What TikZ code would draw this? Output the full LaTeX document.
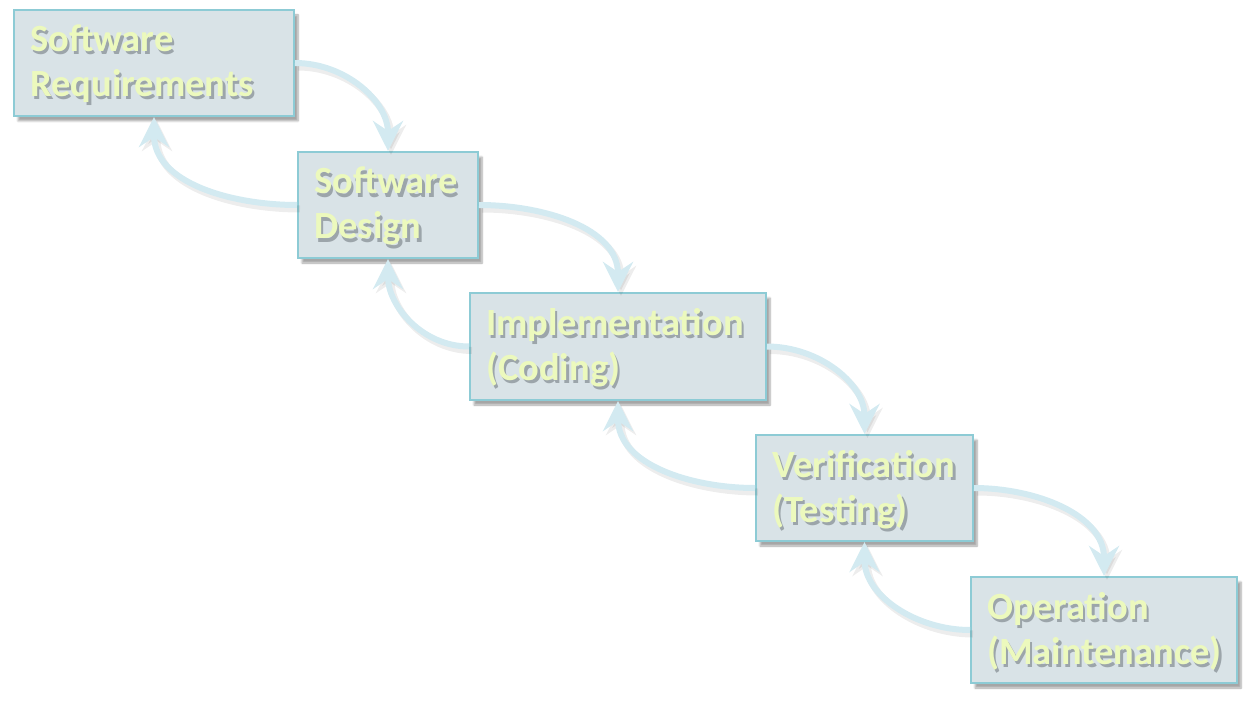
\documentclass[tikz,border=0pt]{standalone}
\usepackage{fontspec}
\setmainfont{Carlito}
\usetikzlibrary{arrows.meta,shadows.blur}
\definecolor{boxfill}{HTML}{D9E3E7}
\definecolor{boxline}{HTML}{8DCBD5}
\definecolor{txt}{HTML}{ECF9BD}
\definecolor{shd}{HTML}{9CA5AA}
\definecolor{arr}{HTML}{D3EAF1}
\tikzset{
  stagebox/.style={draw=boxline, line width=2pt, fill=boxfill, rectangle, inner sep=0pt, anchor=north west,
    blur shadow={shadow xshift=4pt,shadow yshift=-5pt,shadow blur steps=6,shadow opacity=35}},
  lbl/.style={anchor=base west, inner sep=0pt, font=\bfseries\fontsize{38.5}{45}\selectfont, text=txt},
  flow/.style={draw=arr, line width=6pt, -{Stealth[length=30pt,width=30pt,inset=10pt]}},
  flowsh/.style={draw=black, opacity=0.07, line width=7pt, -{Stealth[length=30pt,width=30pt,inset=10pt]},
    transform canvas={shift={(3pt,-4pt)}}},
}
\newcommand{\shtext}[1]{\makebox[0pt][l]{\raisebox{-3pt}{\hspace{2.5pt}\textcolor{shd}{#1}}}#1}
\newcommand{\stagelabel}[5]{%
  \node[lbl] (#1) at (#2,#3) {\begin{tabular}[t]{@{}l@{}}\shtext{#4}\\\shtext{#5}\end{tabular}};
}
\begin{document}
\begin{tikzpicture}[x=1pt,y=-1pt]
\useasboundingbox (0,0) rectangle (1258,714);
\node[stagebox, minimum width=280pt, minimum height=106pt] (b1) at (13,9) {};
\node[stagebox, minimum width=180pt, minimum height=106pt] (b2) at (297,151) {};
\node[stagebox, minimum width=296pt, minimum height=107pt] (b3) at (469,292) {};
\node[stagebox, minimum width=217pt, minimum height=106pt] (b4) at (755,434) {};
\node[stagebox, minimum width=266pt, minimum height=106pt] (b5) at (970,576) {};
% arrow shadows
\draw[flowsh] (b1.east) to[out=0,in=90] (b2.north);
\draw[flowsh] (b2.west) to[out=180,in=-90] (b1.south);
\draw[flowsh] (b2.east) to[out=0,in=90] (b3.north);
\draw[flowsh] (b3.west) to[out=180,in=-90] (b2.south);
\draw[flowsh] (b3.east) to[out=0,in=90] (b4.north);
\draw[flowsh] (b4.west) to[out=180,in=-90] (b3.south);
\draw[flowsh] (b4.east) to[out=0,in=90] (b5.north);
\draw[flowsh] (b5.west) to[out=180,in=-90] (b4.south);
% arrows
\draw[flow] (b1.east) to[out=0,in=90] (b2.north);
\draw[flow] (b2.west) to[out=180,in=-90] (b1.south);
\draw[flow] (b2.east) to[out=0,in=90] (b3.north);
\draw[flow] (b3.west) to[out=180,in=-90] (b2.south);
\draw[flow] (b3.east) to[out=0,in=90] (b4.north);
\draw[flow] (b4.west) to[out=180,in=-90] (b3.south);
\draw[flow] (b4.east) to[out=0,in=90] (b5.north);
\draw[flow] (b5.west) to[out=180,in=-90] (b4.south);
% labels
\stagelabel{t1}{30}{52}{Software}{Requirements}
\stagelabel{t2}{314}{194}{Software}{Design}
\stagelabel{t3}{486}{335}{Implementation}{(Coding)}
\stagelabel{t4}{772}{477}{Verification}{(Testing)}
\stagelabel{t5}{987}{619}{Operation}{(Maintenance)}
\end{tikzpicture}
\end{document}
